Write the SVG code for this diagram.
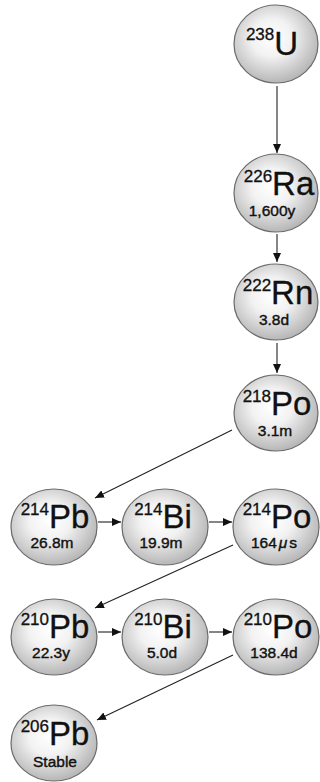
<svg xmlns="http://www.w3.org/2000/svg" width="320" height="782" viewBox="0 0 320 782">
  <defs>
    <radialGradient id="ballGrad" cx="45%" cy="42%" r="60%">
      <stop offset="0" stop-color="#ffffff"/>
      <stop offset="0.4" stop-color="#f2f2f2"/>
      <stop offset="1" stop-color="#b3b3b3"/>
    </radialGradient>
    <marker id="arrow" markerUnits="userSpaceOnUse" markerWidth="10" markerHeight="8" refX="9" refY="4" orient="auto">
      <path d="M0,0 L9,4 L0,8 Z" fill="#111"/>
    </marker>
  </defs>
  <style>
    .ball { fill: url(#ballGrad); stroke: #6a6a6a; stroke-width: 1.2; }
    .lbl { font-family: "Liberation Sans", Arial, sans-serif; fill: #111; text-anchor: middle; stroke: #111; stroke-width: 0.3; }
    .sup { font-size: 17px; }
    .el { font-size: 33px; }
    .hl { font-family: "Liberation Sans", Arial, sans-serif; fill: #111; text-anchor: middle; font-size: 15.5px; stroke: #111; stroke-width: 0.4; }
    .conn { stroke: #222; stroke-width: 1.1; fill: none; marker-end: url(#arrow); }
  </style>
  <rect width="320" height="782" fill="#ffffff"/>

  <g id="connectors">
    <line class="conn" x1="277" y1="86" x2="277" y2="153"/>
    <line class="conn" x1="277" y1="234" x2="277" y2="262"/>
    <line class="conn" x1="277" y1="343" x2="277" y2="373"/>
    <line class="conn" x1="232" y1="430" x2="95" y2="498"/>
    <line class="conn" x1="98" y1="522" x2="121" y2="522"/>
    <line class="conn" x1="209" y1="522" x2="232" y2="522"/>
    <line class="conn" x1="233" y1="545" x2="95" y2="608"/>
    <line class="conn" x1="98" y1="632" x2="121" y2="632"/>
    <line class="conn" x1="209" y1="632" x2="232" y2="632"/>
    <line class="conn" x1="233" y1="655" x2="97" y2="720"/>
  </g>

  <g id="node-U238">
    <ellipse class="ball" cx="276" cy="44" rx="42" ry="39"/>
    <text class="lbl" x="272" y="55"><tspan class="sup" dy="-15">238</tspan><tspan class="el" dy="15">U</tspan></text>
  </g>

  <g id="node-Ra226">
    <ellipse class="ball" cx="276" cy="193" rx="42" ry="39"/>
    <text class="lbl" x="279" y="195"><tspan class="sup" dy="-13">226</tspan><tspan class="el" dy="13">Ra</tspan></text>
    <text class="hl" x="272" y="216">1,600y</text>
  </g>

  <g id="node-Rn222">
    <ellipse class="ball" cx="276" cy="302" rx="42" ry="38"/>
    <text class="lbl" x="278" y="304"><tspan class="sup" dy="-13">222</tspan><tspan class="el" dy="13">Rn</tspan></text>
    <text class="hl" x="274" y="325">3.8d</text>
  </g>

  <g id="node-Po218">
    <ellipse class="ball" cx="276" cy="413" rx="42" ry="38"/>
    <text class="lbl" x="277" y="415"><tspan class="sup" dy="-13">218</tspan><tspan class="el" dy="13">Po</tspan></text>
    <text class="hl" x="275" y="436">3.1m</text>
  </g>

  <g id="node-Pb214">
    <ellipse class="ball" cx="54" cy="527" rx="43" ry="38"/>
    <text class="lbl" x="55" y="528"><tspan class="sup" dy="-13">214</tspan><tspan class="el" dy="13">Pb</tspan></text>
    <text class="hl" x="52" y="548">26.8m</text>
  </g>

  <g id="node-Bi214">
    <ellipse class="ball" cx="165" cy="527" rx="43" ry="38"/>
    <text class="lbl" x="163" y="528"><tspan class="sup" dy="-13">214</tspan><tspan class="el" dy="13">Bi</tspan></text>
    <text class="hl" x="161" y="548">19.9m</text>
  </g>

  <g id="node-Po214">
    <ellipse class="ball" cx="276" cy="527" rx="43" ry="38"/>
    <text class="lbl" x="277" y="528"><tspan class="sup" dy="-13">214</tspan><tspan class="el" dy="13">Po</tspan></text>
    <text class="hl" x="274" y="548">164<tspan dx="2" font-style="italic">μ</tspan><tspan dx="2">s</tspan></text>
  </g>

  <g id="node-Pb210">
    <ellipse class="ball" cx="54" cy="637" rx="43" ry="38"/>
    <text class="lbl" x="55" y="638"><tspan class="sup" dy="-13">210</tspan><tspan class="el" dy="13">Pb</tspan></text>
    <text class="hl" x="51" y="658">22.3y</text>
  </g>

  <g id="node-Bi210">
    <ellipse class="ball" cx="165" cy="637" rx="43" ry="38"/>
    <text class="lbl" x="163" y="638"><tspan class="sup" dy="-13">210</tspan><tspan class="el" dy="13">Bi</tspan></text>
    <text class="hl" x="162" y="658">5.0d</text>
  </g>

  <g id="node-Po210">
    <ellipse class="ball" cx="276" cy="637" rx="43" ry="38"/>
    <text class="lbl" x="278" y="638"><tspan class="sup" dy="-13">210</tspan><tspan class="el" dy="13">Po</tspan></text>
    <text class="hl" x="274" y="658">138.4d</text>
  </g>

  <g id="node-Pb206">
    <ellipse class="ball" cx="54" cy="743" rx="43" ry="38"/>
    <text class="lbl" x="55" y="745"><tspan class="sup" dy="-13">206</tspan><tspan class="el" dy="13">Pb</tspan></text>
    <text class="hl" x="55" y="767">Stable</text>
  </g>
</svg>
